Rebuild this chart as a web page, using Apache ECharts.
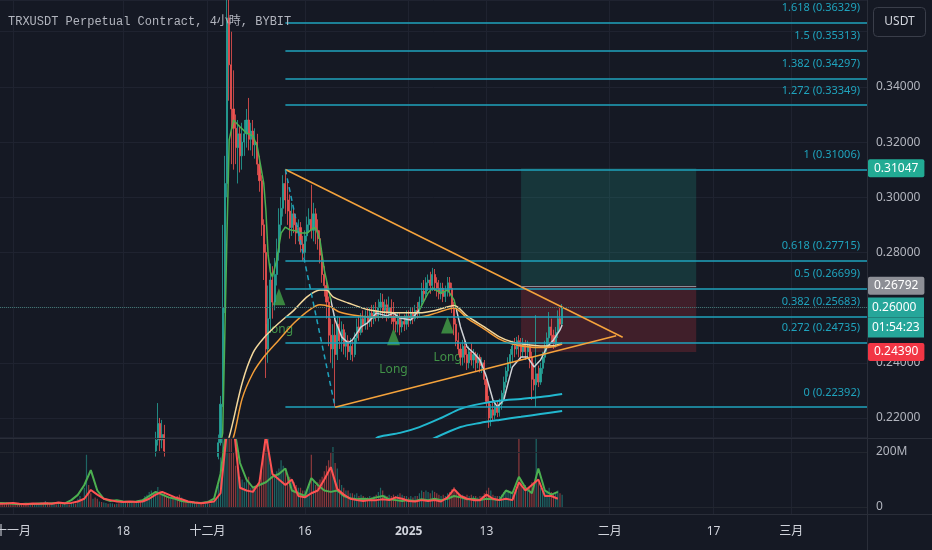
<!DOCTYPE html>
<html><head><meta charset="utf-8">
<script src="https://cdn.jsdelivr.net/npm/echarts@6/dist/echarts.min.js"></script>
<style>html,body{margin:0;padding:0;background:#151924;}#c{width:932px;height:550px;}</style>
</head><body><div id="c"></div>
<script>
const titleText = 'TRXUSDT Perpetual Contract, 4小時, BYBIT';
const quoteUnit = 'USDT';
const startTime = Date.UTC(2024, 9, 30);
const slotHours = 8;
const slotCount = 402;
const tickDates = ['2024-11-01','2024-11-18','2024-12-01','2024-12-16','2025-01-01','2025-01-13','2025-02-01','2025-02-17','2025-03-01'];
const tickTexts = ['十一月','18','十二月','16','2025','13','二月','17','三月'];
const priceTicks = [0.22,0.24,0.26,0.28,0.30,0.32,0.34];
const volumeTicks = [0,200];

// [open, close, low, high]
const candles = [
[0.1680,0.1672,0.1660,0.1695],[0.1672,0.1665,0.1655,0.1680],[0.1665,0.1660,0.1650,0.1672],[0.1660,0.1648,0.1640,0.1668],[0.1648,0.1640,0.1630,0.1655],
[0.1640,0.1628,0.1620,0.1645],[0.1628,0.1610,0.1600,0.1632],[0.1610,0.1605,0.1595,0.1618],[0.1605,0.1600,0.1590,0.1612],[0.1600,0.1595,0.1585,0.1608],
[0.1595,0.1590,0.1580,0.1602],[0.1590,0.1585,0.1578,0.1598],[0.1585,0.1580,0.1570,0.1592],[0.1580,0.1575,0.1560,0.1588],[0.1575,0.1582,0.1570,0.1590],
[0.1582,0.1578,0.1568,0.1590],[0.1578,0.1585,0.1572,0.1592],[0.1585,0.1590,0.1578,0.1598],[0.1590,0.1596,0.1582,0.1605],[0.1596,0.1610,0.1590,0.1615],
[0.1610,0.1605,0.1598,0.1618],[0.1605,0.1625,0.1600,0.1640],[0.1625,0.1618,0.1605,0.1632],[0.1618,0.1612,0.1600,0.1625],[0.1612,0.1625,0.1608,0.1632],
[0.1625,0.1632,0.1618,0.1640],[0.1632,0.1628,0.1620,0.1638],[0.1628,0.1635,0.1622,0.1642],[0.1635,0.1630,0.1622,0.1640],[0.1630,0.1638,0.1625,0.1645],
[0.1638,0.1645,0.1632,0.1652],[0.1645,0.1650,0.1640,0.1658],[0.1650,0.1648,0.1640,0.1656],[0.1648,0.1660,0.1645,0.1668],[0.1660,0.1672,0.1655,0.1680],
[0.1672,0.1668,0.1660,0.1680],[0.1668,0.1690,0.1662,0.1705],[0.1690,0.1705,0.1680,0.1720],[0.1705,0.1700,0.1690,0.1712],[0.1700,0.1740,0.1695,0.1760],
[0.1740,0.1820,0.1735,0.1880],[0.1820,0.1780,0.1760,0.1840],[0.1780,0.1760,0.1740,0.1800],[0.1760,0.1770,0.1745,0.1785],[0.1770,0.1755,0.1740,0.1780],
[0.1755,0.1740,0.1725,0.1765],[0.1740,0.1748,0.1730,0.1755],[0.1748,0.1735,0.1725,0.1755],[0.1735,0.1742,0.1728,0.1750],[0.1742,0.1750,0.1735,0.1758],
[0.1750,0.1745,0.1738,0.1756],[0.1745,0.1752,0.1740,0.1760],[0.1752,0.1760,0.1745,0.1768],[0.1760,0.1755,0.1748,0.1765],[0.1755,0.1762,0.1750,0.1770],
[0.1762,0.1758,0.1748,0.1770],[0.1758,0.1770,0.1752,0.1778],[0.1770,0.1785,0.1765,0.1795],[0.1785,0.1795,0.1778,0.1805],[0.1795,0.1790,0.1780,0.1802],
[0.1790,0.1800,0.1785,0.1810],[0.1800,0.1812,0.1795,0.1820],[0.1812,0.1808,0.1798,0.1818],[0.1808,0.1820,0.1802,0.1830],[0.1820,0.1835,0.1815,0.1842],
[0.1835,0.1830,0.1822,0.1845],[0.1830,0.1850,0.1825,0.1860],[0.1850,0.1890,0.1845,0.1905],[0.1890,0.1920,0.1880,0.1940],[0.1920,0.1980,0.1910,0.2000],
[0.1980,0.2050,0.1970,0.2080],[0.2050,0.2080,0.2030,0.2110],[0.2080,0.2120,0.2060,0.2150],[0.2120,0.2180,0.2100,0.2254],[0.2180,0.2120,0.2080,0.2200],
[0.2120,0.2140,0.2090,0.2193],[0.2140,0.2080,0.2060,0.2175],[0.2080,0.2060,0.2030,0.2110],[0.2060,0.2020,0.2000,0.2080],[0.2020,0.2030,0.1990,0.2060],
[0.2030,0.2000,0.1980,0.2050],[0.2000,0.2010,0.1985,0.2030],[0.2010,0.1990,0.1975,0.2020],[0.1990,0.1975,0.1955,0.2005],[0.1975,0.1985,0.1960,0.2000],
[0.1985,0.1970,0.1955,0.1995],[0.1970,0.1960,0.1945,0.1980],[0.1960,0.1970,0.1950,0.1978],[0.1970,0.1980,0.1962,0.1988],[0.1980,0.1995,0.1975,0.2005],
[0.1995,0.2005,0.1985,0.2015],[0.2005,0.2000,0.1990,0.2012],[0.2000,0.2010,0.1992,0.2018],[0.2010,0.2005,0.1995,0.2015],[0.2005,0.2000,0.1990,0.2012],
[0.2000,0.2010,0.1995,0.2018],[0.2010,0.2020,0.2002,0.2028],[0.2020,0.2015,0.2005,0.2030],[0.2015,0.2025,0.2008,0.2035],[0.2025,0.2040,0.2018,0.2050],
[0.2040,0.2060,0.2030,0.2075],[0.2060,0.2110,0.2050,0.2140],[0.2110,0.2250,0.2100,0.2280],[0.2250,0.2600,0.2240,0.2900],[0.2600,0.3050,0.2580,0.3150],
[0.3050,0.3650,0.3000,0.4450],[0.3650,0.3480,0.3350,0.3900],[0.3480,0.3320,0.3120,0.3600],[0.3320,0.3250,0.3100,0.3460],[0.3250,0.3180,0.3120,0.3300],
[0.3180,0.3230,0.3050,0.3280],[0.3230,0.3150,0.3090,0.3260],[0.3150,0.3200,0.3100,0.3270],[0.3200,0.3230,0.3150,0.3280],[0.3230,0.3280,0.3180,0.3320],
[0.3280,0.3210,0.3170,0.3360],[0.3210,0.3240,0.3170,0.3270],[0.3240,0.3190,0.3150,0.3280],[0.3190,0.3200,0.3140,0.3250],[0.3200,0.3120,0.3080,0.3230],
[0.3120,0.3060,0.3020,0.3150],[0.3060,0.2900,0.2860,0.3080],[0.2900,0.2800,0.2700,0.2920],[0.2800,0.2450,0.2345,0.2830],[0.2450,0.2560,0.2400,0.2680],
[0.2560,0.2700,0.2510,0.2760],[0.2700,0.2620,0.2560,0.2750],[0.2620,0.2720,0.2590,0.2780],[0.2720,0.2800,0.2680,0.2850],[0.2800,0.2900,0.2770,0.2960],
[0.2900,0.2960,0.2860,0.3000],[0.2960,0.3050,0.2930,0.3080],[0.3050,0.2990,0.2940,0.3100],[0.2990,0.2950,0.2900,0.3060],[0.2950,0.2890,0.2850,0.3010],
[0.2890,0.2940,0.2860,0.2980],[0.2940,0.2900,0.2870,0.2960],[0.2900,0.2870,0.2830,0.2940],[0.2870,0.2890,0.2840,0.2920],[0.2890,0.2830,0.2800,0.2910],
[0.2830,0.2800,0.2770,0.2860],[0.2800,0.2860,0.2780,0.2880],[0.2860,0.2900,0.2840,0.2930],[0.2900,0.2920,0.2870,0.2960],[0.2920,0.2880,0.2850,0.3045],
[0.2880,0.2940,0.2840,0.2980],[0.2940,0.2880,0.2830,0.2960],[0.2880,0.2850,0.2810,0.2920],[0.2850,0.2790,0.2760,0.2880],[0.2790,0.2720,0.2690,0.2810],
[0.2720,0.2680,0.2640,0.2750],[0.2680,0.2620,0.2560,0.2700],[0.2620,0.2500,0.2460,0.2640],[0.2500,0.2450,0.2400,0.2560],[0.2450,0.2500,0.2380,0.2540],
[0.2500,0.2430,0.2239,0.2560],[0.2430,0.2540,0.2410,0.2570],[0.2540,0.2480,0.2450,0.2566],[0.2480,0.2520,0.2440,0.2550],[0.2520,0.2460,0.2430,0.2540],
[0.2460,0.2480,0.2420,0.2510],[0.2480,0.2440,0.2410,0.2500],[0.2440,0.2460,0.2410,0.2490],[0.2460,0.2430,0.2405,0.2480],[0.2430,0.2490,0.2420,0.2510],
[0.2490,0.2530,0.2470,0.2560],[0.2530,0.2510,0.2480,0.2570],[0.2510,0.2560,0.2500,0.2580],[0.2560,0.2540,0.2510,0.2590],[0.2540,0.2570,0.2520,0.2590],
[0.2570,0.2550,0.2520,0.2600],[0.2550,0.2580,0.2530,0.2600],[0.2580,0.2560,0.2530,0.2610],[0.2560,0.2590,0.2540,0.2610],[0.2590,0.2570,0.2550,0.2620],
[0.2570,0.2600,0.2550,0.2630],[0.2600,0.2620,0.2570,0.2653],[0.2620,0.2590,0.2560,0.2650],[0.2590,0.2610,0.2570,0.2630],[0.2610,0.2580,0.2550,0.2630],
[0.2580,0.2600,0.2560,0.2640],[0.2600,0.2570,0.2540,0.2630],[0.2570,0.2550,0.2520,0.2620],[0.2550,0.2540,0.2510,0.2580],[0.2540,0.2560,0.2510,0.2580],
[0.2560,0.2530,0.2500,0.2580],[0.2530,0.2550,0.2510,0.2570],[0.2550,0.2540,0.2515,0.2575],[0.2540,0.2570,0.2520,0.2590],[0.2570,0.2560,0.2530,0.2590],
[0.2560,0.2580,0.2540,0.2600],[0.2580,0.2560,0.2540,0.2600],[0.2560,0.2590,0.2550,0.2610],[0.2590,0.2580,0.2560,0.2620],[0.2580,0.2620,0.2570,0.2640],
[0.2620,0.2660,0.2600,0.2690],[0.2660,0.2650,0.2620,0.2700],[0.2650,0.2690,0.2630,0.2710],[0.2690,0.2700,0.2660,0.2720],[0.2700,0.2680,0.2650,0.2730],
[0.2680,0.2720,0.2660,0.2744],[0.2720,0.2690,0.2660,0.2740],[0.2690,0.2670,0.2640,0.2710],[0.2670,0.2650,0.2630,0.2700],[0.2650,0.2670,0.2630,0.2690],
[0.2670,0.2640,0.2620,0.2690],[0.2640,0.2660,0.2620,0.2680],[0.2660,0.2690,0.2640,0.2711],[0.2690,0.2670,0.2640,0.2711],[0.2670,0.2600,0.2580,0.2690],
[0.2600,0.2540,0.2500,0.2620],[0.2540,0.2480,0.2460,0.2560],[0.2480,0.2450,0.2430,0.2510],[0.2450,0.2420,0.2390,0.2470],[0.2420,0.2460,0.2390,0.2483],
[0.2460,0.2430,0.2400,0.2480],[0.2430,0.2400,0.2374,0.2450],[0.2400,0.2440,0.2380,0.2460],[0.2440,0.2410,0.2390,0.2470],[0.2410,0.2430,0.2380,0.2450],
[0.2430,0.2400,0.2370,0.2440],[0.2400,0.2420,0.2380,0.2436],[0.2420,0.2390,0.2365,0.2430],[0.2390,0.2400,0.2363,0.2420],[0.2400,0.2340,0.2320,0.2410],
[0.2340,0.2260,0.2240,0.2350],[0.2260,0.2200,0.2164,0.2280],[0.2200,0.2230,0.2170,0.2250],[0.2230,0.2210,0.2190,0.2260],[0.2210,0.2240,0.2195,0.2265],
[0.2240,0.2220,0.2203,0.2265],[0.2220,0.2250,0.2205,0.2270],[0.2250,0.2290,0.2230,0.2300],[0.2290,0.2330,0.2270,0.2350],[0.2330,0.2370,0.2310,0.2385],
[0.2370,0.2400,0.2350,0.2420],[0.2400,0.2430,0.2380,0.2450],[0.2430,0.2460,0.2400,0.2480],[0.2460,0.2450,0.2420,0.2490],[0.2450,0.2480,0.2430,0.2494],
[0.2480,0.2460,0.2420,0.2500],[0.2460,0.2440,0.2410,0.2490],[0.2440,0.2470,0.2420,0.2490],[0.2470,0.2440,0.2410,0.2483],[0.2440,0.2460,0.2420,0.2480],
[0.2460,0.2420,0.2380,0.2470],[0.2420,0.2340,0.2265,0.2440],[0.2340,0.2320,0.2300,0.2400],[0.2320,0.2360,0.2239,0.2573],[0.2360,0.2330,0.2312,0.2390],
[0.2330,0.2380,0.2320,0.2400],[0.2380,0.2420,0.2360,0.2440],[0.2420,0.2460,0.2400,0.2480],[0.2460,0.2490,0.2440,0.2510],[0.2490,0.2530,0.2470,0.2584],
[0.2530,0.2500,0.2470,0.2560],[0.2500,0.2470,0.2450,0.2520],[0.2470,0.2510,0.2455,0.2530],[0.2510,0.2560,0.2490,0.2590],[0.2560,0.2540,0.2520,0.2599],
[0.2540,0.2600,0.2530,0.2613]
];

// volume per candle, millions
const volumes = [
14,12,10,16,14,12,18,12,10,12, 9,8,11,14,10,12,13,11,14,16, 12,22,18,12,14,13,10,12,11,10, 12,10,9,14,18,13,
30,40,25,70,190,80,
50,30,35,30,20,18,16,15,12,14, 13,10,12,14,16,20,22,18,20,
22,16,18,22,18,25,40,45,55,60,50,55,
73,60,50,55,40,35,30,35,30,40, 45,35,25,20,18,15,16,18,12,14, 12,10,12,14,12,14,20,
35,80,180,300,400,600,450,350,200,
150,140,110,100,90,100,110,70,70,60, 80,90,130,200,280,
250,160,130,120,130,140,170,150,130,
120,110,100,90,80,70,70,60,60,65, 80,190,100,80,90,100,110,130,150,170, 200,218,160,
140,100,80,70,60,60,50,50,45,50, 40,45,40,35,35,40,35,40,45,55, 70,60,45,40,45,40,45,40,45,50, 45,40,40,
35,40,35,40,40,50,60,55,60,55, 50,60,55,50,45,40,45,40,50,55, 65,73,60,50,45,
45,40,45,40,45,40,40,35,40,40, 50,60,70,60,45,40,40,40,45,55, 60,60,55,50,45,60,
260,100,70,80,60,70,90,80,250,90, 70,65,60,60,70,55,50,55,60,50, 45
];

// daily samples of the two volume averages, millions
const volGreenLine = [15,14,12,10,12,11,13,12,14,15, 13,25,44,80,134,60,30,22,25,20, 18,20,25,40,55,45,35,30,22,18,
 16,15,18,30,120,300,300,160,100,70, 80,90,110,120,140,60,50,40,105,80, 60,55,60,40,32,28,30,28,35,40,
 28,25,22,25,22,28,25,30,25,30, 40,35,28,30,25,30,28,25,60,50, 110,70,50,140,60,45,55];
const volRedLine = [12,13,15,12,10,13,12,14,12,16, 14,15,20,30,62,45,30,25,20,18, 20,18,20,30,45,55,45,35,28,20,
 16,14,16,20,50,280,300,70,60,55, 90,260,120,100,80,100,40,35,50,60, 100,145,65,45,30,25,22,25,25,28,
 25,35,30,22,20,25,22,25,20,35, 65,40,30,25,25,45,30,25,30,25, 90,60,80,100,40,40,30];

// moving averages as [slot, price]
const maShort = [[100,0.2050],[102,0.2100],[103,0.2146],[105,0.2871],[106,0.3208],[108,0.3280],[111,0.3255],[114,0.3233],[117,0.3222],[119,0.3183],[122,0.3050],[123,0.2950],[124,0.2790],[125,0.2730],[126,0.2711],[128,0.2773],[130,0.2870],[132,0.2892],[134,0.2882],[137,0.2878],[139,0.2870],[142,0.2870],[145,0.2889],[146,0.2889],[148,0.2845],[150,0.2736],[153,0.2628],[155,0.2555],[158,0.2494],[161,0.2472],[163,0.2483],[167,0.2530],[170,0.2545],[174,0.2580],[179,0.2570],[182,0.2580],[185,0.2562],[190,0.2555],[194,0.2592],[198,0.2653],[200,0.2671],[204,0.2653],[207,0.2664],[210,0.2628],[213,0.2530],[216,0.2457],[219,0.2436],[222,0.2410],[225,0.2349],[228,0.2265],[230,0.2240],[233,0.2265],[235,0.2327],[237,0.2385],[241,0.2421],[244,0.2421],[247,0.2385],[250,0.2410],[253,0.2457],[256,0.2483],[259,0.2519],[260,0.2537]];
const maYellow = [[100,0.2000],[106,0.2131],[112,0.2327],[117,0.2436],[122,0.2490],[129,0.2544],[136,0.2591],[142,0.2639],[148,0.2664],[151,0.2664],[154,0.2639],[161,0.2617],[171,0.2591],[182,0.2581],[194,0.2581],[202,0.2591],[210,0.2608],[216,0.2570],[224,0.2530],[231,0.2494],[237,0.2475],[244,0.2465],[250,0.2461],[256,0.2462],[260,0.2472]];
const maOrange = [[100,0.1950],[108,0.2131],[112,0.2270],[117,0.2363],[122,0.2421],[129,0.2483],[136,0.2544],[143,0.2591],[148,0.2610],[153,0.2602],[157,0.2584],[163,0.2573],[171,0.2566],[182,0.2566],[194,0.2566],[202,0.2581],[210,0.2599],[216,0.2562],[224,0.2522],[231,0.2486],[237,0.2468],[244,0.2458],[250,0.2455],[256,0.2458],[260,0.2468]];
const maCyanUpper = [[172,0.2110],[175,0.2131],[185,0.2146],[194,0.2167],[204,0.2200],[213,0.2233],[222,0.2251],[231,0.2262],[241,0.2269],[250,0.2276],[260,0.2287]];
const maCyanLower = [[194,0.2100],[199,0.2120],[213,0.2167],[222,0.2182],[231,0.2193],[241,0.2204],[250,0.2214],[260,0.2225]];

// drawings
const fibLevels = [1.618,1.5,1.382,1.272,1,0.618,0.5,0.382,0.272,0];
const fibPrices = [0.36329,0.35313,0.34297,0.33349,0.31006,0.27715,0.26699,0.25683,0.24735,0.22392];
const fibStartSlot = 132;
const triUpper = [[132,0.31006],[288,0.24925]];
const triLower = [[155,0.22392],[285,0.24983]];
const dashLeg = [[132,0.31006],[155,0.22392]];
const posStartSlot = 241, posEndSlot = 322;
const targetPrice = 0.31047, entryPrice = 0.26792, stopPrice = 0.24390;
const currentPrice = 0.26000;
const countdown = '01:54:23';
const longSignals = [[129,0.2639],[182,0.2494],[207,0.2537]];
const longText = 'Long';

// ---------- build ----------
const categories = [];
for (let i = 0; i < slotCount; i++) {
  categories.push(new Date(startTime + i * slotHours * 3600000).toISOString().slice(0, 13));
}
const tickByValue = {};
tickDates.forEach((d, k) => { tickByValue[d + 'T00'] = tickTexts[k]; });
const isTick = (idx) => tickByValue[categories[idx]] !== undefined;
const lastSlot = slotCount - 1;

const UP = '#26a69a', DOWN = '#ef5350';
const FIB = '#1fa3bd';
const FONT = "'Noto Sans','Noto Sans CJK SC',sans-serif";
const NONE = 'rgba(0,0,0,0)';

const volData = volumes.map((v, i) => ({
  value: v,
  itemStyle: { color: candles[i][1] >= candles[i][0] ? 'rgba(38,166,154,0.55)' : 'rgba(239,83,80,0.55)' }
}));
const volGreenData = volGreenLine.map((v, i) => [i * 3, v]);
const volRedData = volRedLine.map((v, i) => [i * 3, v]);

const fibLines = fibLevels.map((lv, k) => [
  { coord: [fibStartSlot, fibPrices[k]],
    label: { show: true, position: 'insideEndTop', distance: [7, 9], formatter: lv + ' (' + fibPrices[k].toFixed(5) + ')',
             color: FIB, fontSize: 11, fontFamily: FONT },
    lineStyle: { color: FIB, width: 1.5, type: 'solid' } },
  { coord: [lastSlot, fibPrices[k]] }
]);

const badge = (price, bg, fg) => ({
  yAxis: price,
  lineStyle: { color: NONE, width: 1 },
  label: { show: true, position: 'end', distance: 1, formatter: (p) => Number(p.value).toFixed(5),
           backgroundColor: bg, color: fg, padding: [3, 6, 3, 6], fontSize: 12, fontFamily: FONT, borderRadius: 2 }
});

const markLineData = [].concat(fibLines, [
  [{ coord: triUpper[0], lineStyle: { color: '#f5a33c', width: 1.5, type: 'solid' } }, { coord: triUpper[1] }],
  [{ coord: triLower[0], lineStyle: { color: '#f5a33c', width: 1.5, type: 'solid' } }, { coord: triLower[1] }],
  [{ coord: dashLeg[0], lineStyle: { color: '#1fa3bd', width: 1.5, type: [5, 4] } }, { coord: dashLeg[1] }],
  [{ coord: [posStartSlot, entryPrice], lineStyle: { color: '#8a8d96', width: 1, type: 'solid' } }, { coord: [posEndSlot, entryPrice] }],
  badge(targetPrice, '#22ab94', '#ffffff'),
  badge(entryPrice, '#8d8f96', '#ffffff'),
  badge(stopPrice, '#f23645', '#ffffff'),
  {
    yAxis: currentPrice,
    lineStyle: { color: '#3f7472', width: 1, type: 'dotted' },
    label: {
      show: true, position: 'end', distance: 1, padding: [20, 0, 0, 0],
      formatter: (p) => '{a|' + Number(p.value).toFixed(5) + '}\n{a|' + countdown + '}',
      rich: { a: { backgroundColor: '#26a69a', color: '#ffffff', fontSize: 12, fontFamily: FONT,
                   lineHeight: 20, height: 20, width: 48, padding: [0, 4] } }
    }
  }
]);

const chart = echarts.init(document.getElementById('c'), null, { renderer: 'canvas' });
chart.setOption({
  animation: false,
  backgroundColor: '#151924',
  textStyle: { fontFamily: FONT },
  title: {
    text: titleText, left: 8, top: 16, padding: 0,
    textStyle: { color: '#b2b5be', fontSize: 12, fontWeight: 'normal', fontFamily: "'Liberation Mono','Noto Sans CJK TC',monospace" }
  },
  grid: [
    { left: 0, right: 65, top: 0, height: 437, outerBoundsMode: 'none' },
    { left: 0, right: 65, top: 439, height: 75, outerBoundsMode: 'none' }
  ],
  xAxis: [
    { gridIndex: 0, type: 'category', data: categories, boundaryGap: false,
      axisLine: { show: false }, axisTick: { show: false }, axisLabel: { show: false },
      splitLine: { show: true, interval: (i) => isTick(i), lineStyle: { color: '#1f2330', width: 1 } } },
    { gridIndex: 1, type: 'category', data: categories, boundaryGap: false,
      axisLine: { show: false }, axisTick: { show: false },
      axisLabel: { interval: (i) => isTick(i), margin: 12, color: '#d1d4dc', fontSize: 12, fontFamily: FONT,
        formatter: (v) => { const t = tickByValue[v] || ''; return t === '2025' ? '{y|' + t + '}' : t; },
        rich: { y: { fontWeight: 'bold', color: '#d1d4dc', fontSize: 12, fontFamily: FONT } } },
      splitLine: { show: true, interval: (i) => isTick(i), lineStyle: { color: '#1f2330', width: 1 } } }
  ],
  yAxis: [
    { gridIndex: 0, type: 'value', position: 'right', min: 0.2131, max: 0.3715, splitNumber: 8,
      axisLine: { show: false }, axisTick: { show: false },
      axisLabel: { color: '#b2b5be', fontSize: 12, margin: 9, fontFamily: FONT, customValues: priceTicks,
                   formatter: (v) => v.toFixed(5) },
      splitLine: { show: true, lineStyle: { color: '#1f2330' } } },
    { gridIndex: 1, type: 'value', position: 'right', min: -25.45, max: 247.3,
      axisLine: { show: false }, axisTick: { show: false }, splitLine: { show: false },
      axisLabel: { color: '#b2b5be', fontSize: 12, margin: 9, fontFamily: FONT, customValues: volumeTicks,
                   formatter: (v) => v === 0 ? '0' : (v === 200 ? '200M' : '') } }
  ],
  visualMap: {
    type: 'piecewise', show: false, seriesIndex: 1, dimension: 0,
    pieces: [
      { lt: 153, color: '#4caf50' },
      { gte: 153, lt: 194, color: '#cfd2d6' },
      { gte: 194, lt: 211, color: '#4caf50' },
      { gte: 211, color: '#cfd2d6' }
    ]
  },
  series: [
    { type: 'candlestick', name: 'price', xAxisIndex: 0, yAxisIndex: 0, data: candles, barWidth: 1.6, silent: true, z: 3,
      itemStyle: { color: UP, color0: DOWN, borderColor: UP, borderColor0: DOWN, borderWidth: 0.8 },
      markArea: { silent: true, label: { show: false },
        data: [
          [{ coord: [posStartSlot, targetPrice], itemStyle: { color: 'rgba(34,171,148,0.2)' } }, { coord: [posEndSlot, entryPrice] }],
          [{ coord: [posStartSlot, entryPrice], itemStyle: { color: 'rgba(242,54,69,0.2)' } }, { coord: [posEndSlot, stopPrice] }]
        ] },
      markLine: { silent: true, precision: 5, symbol: ['none', 'none'], data: markLineData } },
    { type: 'line', name: 'maShort', xAxisIndex: 0, yAxisIndex: 0, data: maShort, showSymbol: false, symbol: 'none',
      lineStyle: { width: 1.5 }, silent: true, z: 4 },
    { type: 'line', name: 'maYellow', xAxisIndex: 0, yAxisIndex: 0, data: maYellow, symbol: 'none', smooth: 0.3,
      lineStyle: { width: 1.5, color: '#f3d79b' }, itemStyle: { color: '#f3d79b' }, silent: true, z: 4 },
    { type: 'line', name: 'maOrange', xAxisIndex: 0, yAxisIndex: 0, data: maOrange, symbol: 'none', smooth: 0.3,
      lineStyle: { width: 1.5, color: '#f29d38' }, itemStyle: { color: '#f29d38' }, silent: true, z: 4 },
    { type: 'line', name: 'cyanUpper', xAxisIndex: 0, yAxisIndex: 0, data: maCyanUpper, symbol: 'none', smooth: 0.3,
      lineStyle: { width: 2, color: '#22b8cf' }, itemStyle: { color: '#22b8cf' }, silent: true, z: 4 },
    { type: 'line', name: 'cyanLower', xAxisIndex: 0, yAxisIndex: 0, data: maCyanLower, symbol: 'none', smooth: 0.3,
      lineStyle: { width: 2, color: '#22b8cf' }, itemStyle: { color: '#22b8cf' }, silent: true, z: 4 },
    { type: 'scatter', name: 'long', xAxisIndex: 0, yAxisIndex: 0, data: longSignals, symbol: 'triangle', symbolSize: [13, 17],
      itemStyle: { color: '#43a047' }, silent: true, z: 2,
      label: { show: true, position: 'bottom', distance: 18, formatter: longText, color: '#4caf50', fontSize: 12, fontFamily: FONT } },
    { type: 'bar', name: 'volume', xAxisIndex: 1, yAxisIndex: 1, data: volData, barWidth: 1.2, silent: true,
      markLine: { silent: true, symbol: ['none', 'none'], label: { show: false },
        lineStyle: { color: '#22262f', width: 1, type: 'solid' }, data: volumeTicks.map((v) => ({ yAxis: v })) } },
    { type: 'line', name: 'volGreen', xAxisIndex: 1, yAxisIndex: 1, data: volGreenData, symbol: 'none',
      lineStyle: { width: 2, color: '#4caf50' }, itemStyle: { color: '#4caf50' }, silent: true, z: 5 },
    { type: 'line', name: 'volRed', xAxisIndex: 1, yAxisIndex: 1, data: volRedData, symbol: 'none',
      lineStyle: { width: 2, color: '#ff5252' }, itemStyle: { color: '#ff5252' }, silent: true, z: 5 }
  ],
  graphic: [
    { type: 'line', shape: { x1: 867.5, y1: 0, x2: 867.5, y2: 550 }, style: { stroke: '#2a2e39', lineWidth: 1 }, z: 50 },
    { type: 'line', shape: { x1: 0, y1: 438.5, x2: 932, y2: 438.5 }, style: { stroke: '#2a2e39', lineWidth: 1 }, z: 50 },
    { type: 'line', shape: { x1: 0, y1: 514.5, x2: 932, y2: 514.5 }, style: { stroke: '#2a2e39', lineWidth: 1 }, z: 50 },
    { type: 'rect', shape: { x: 873.5, y: 7.5, width: 52, height: 29, r: 4 }, style: { fill: '#151924', stroke: '#3a3e4a', lineWidth: 1 }, z: 100 },
    { type: 'text', x: 899.5, y: 22, style: { text: quoteUnit, fill: '#d1d4dc', font: "12px 'Noto Sans'", align: 'center', verticalAlign: 'middle' }, z: 101 }
  ]
});
</script>
</body></html>
